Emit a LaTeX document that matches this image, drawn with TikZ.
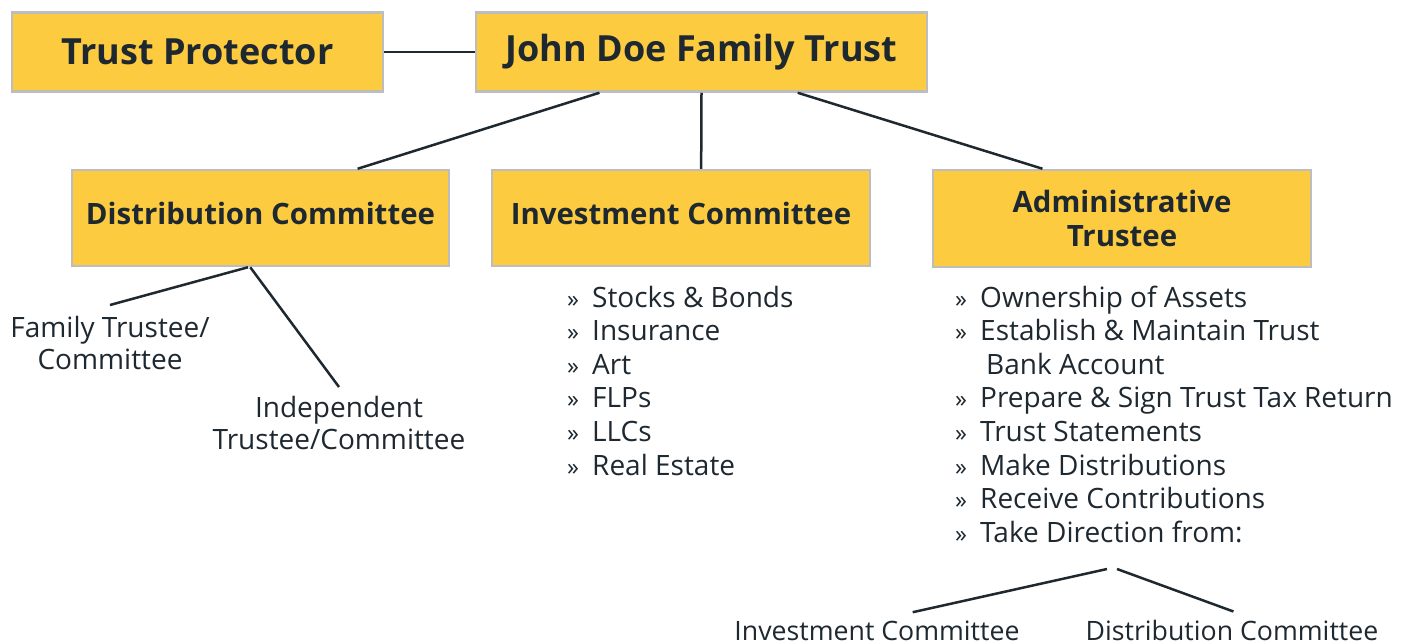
\documentclass[tikz,border=0pt]{standalone}
\usepackage{fontspec}
\setmainfont{Open Sans}
\usetikzlibrary{calc}
\definecolor{boxfill}{HTML}{FDCB40}
\definecolor{boxline}{HTML}{BDBDBD}
\definecolor{ink}{HTML}{1E2830}
\tikzset{
  ybox/.style={draw=boxline, line width=2.5pt, fill=boxfill, text=ink, inner sep=0pt, align=center},
  conn/.style={draw=ink, line width=2.5pt},
  lbl/.style={text=ink, inner sep=0pt, align=center, font=\fontsize{28}{32}\selectfont},
  item/.style={text=ink, inner sep=0pt, anchor=base west, font=\fontsize{28}{32}\selectfont},
}
\newcommand{\bul}{\makebox[25pt][l]{\fontsize{24}{32}\selectfont»}}
\begin{document}
\begin{tikzpicture}[x=1pt,y=-1pt]
\useasboundingbox (0,0) rectangle (1413,643);
% top boxes
\node[ybox, minimum width=371pt, minimum height=79pt, font=\fontsize{36}{40}\selectfont\bfseries] (tp) at (197.5,52) {Trust Protector};
\node[ybox, minimum width=451pt, minimum height=79pt, font=\fontsize{36}{40}\selectfont\bfseries] (jd) at (701.5,52) {John Doe Family Trust};
% second row
\node[ybox, minimum width=377pt, minimum height=96pt, text depth=9.5pt, font=\fontsize{29.4}{34}\selectfont\bfseries] (dc) at (260.5,218) {Distribution Committee};
\node[ybox, minimum width=378pt, minimum height=96pt, text depth=9.5pt, font=\fontsize{29.4}{34}\selectfont\bfseries] (ic) at (681,218) {Investment Committee};
\node[ybox, minimum width=378pt, minimum height=97pt, font=\fontsize{29.4}{34}\selectfont\bfseries] (at) at (1122,218.5) {Administrative\\Trustee};
% connectors
\draw[conn] (tp.east) -- (jd.west);
\draw[conn] ($(jd.south west)!0.275!(jd.south east)$) -- ($(dc.north west)!0.756!(dc.north east)$);
\draw[conn] (jd.south) -- ($(ic.north west)!0.553!(ic.north east)$);
\draw[conn] ($(jd.south west)!0.712!(jd.south east)$) -- ($(at.north west)!0.291!(at.north east)$);
% distribution committee children
\node[lbl, anchor=north] (fam) at (110,316) {Family Trustee/\\Committee};
\node[lbl, anchor=north] (ind) at (339,396) {Independent\\Trustee/Committee};
\draw[conn] ($(dc.south west)!0.467!(dc.south east)$) -- ($(fam.north)+(0,-11)$);
\draw[conn] ($(dc.south west)!0.473!(dc.south east)$) -- ($(ind.north)+(0,-9)$);
% investment list
\foreach \t [count=\i] in {Stocks \& Bonds, Insurance, Art, FLPs, LLCs, Real Estate}{
  \node[item] (inv\i) at (567,{307+33.6*(\i-1)}) {\bul\t};
}
% administrative list
\node[item] (ad1) at (955,307) {\bul Ownership of Assets};
\node[item] (ad2) at (955,340.6) {\bul Establish \& Maintain Trust};
\node[item] (ad3) at (955,374.2) {\hspace{31pt}Bank Account};
\node[item] (ad4) at (955,407.8) {\bul Prepare \& Sign Trust Tax Return};
\node[item] (ad5) at (955,441.4) {\bul Trust Statements};
\node[item] (ad6) at (955,475) {\bul Make Distributions};
\node[item] (ad7) at (955,508.6) {\bul Receive Contributions};
\node[item] (ad8) at (955,542.2) {\bul Take Direction from:};
% bottom
\coordinate (td1) at (1107,569);
\coordinate (td2) at (1117,569);
\node[lbl, anchor=base, font=\fontsize{26.7}{30}\selectfont] (ic2) at (877,640) {Investment Committee};
\node[lbl, anchor=base, font=\fontsize{26.7}{30}\selectfont] (dc2) at (1232,640) {Distribution Committee};
\draw[conn] (td1) -- ($(ic2.north west)!0.625!(ic2.north east)+(0,-8)$);
\draw[conn] (td2) -- ($(dc2.north west)!0.505!(dc2.north east)+(0,-8)$);
\end{tikzpicture}
\end{document}
